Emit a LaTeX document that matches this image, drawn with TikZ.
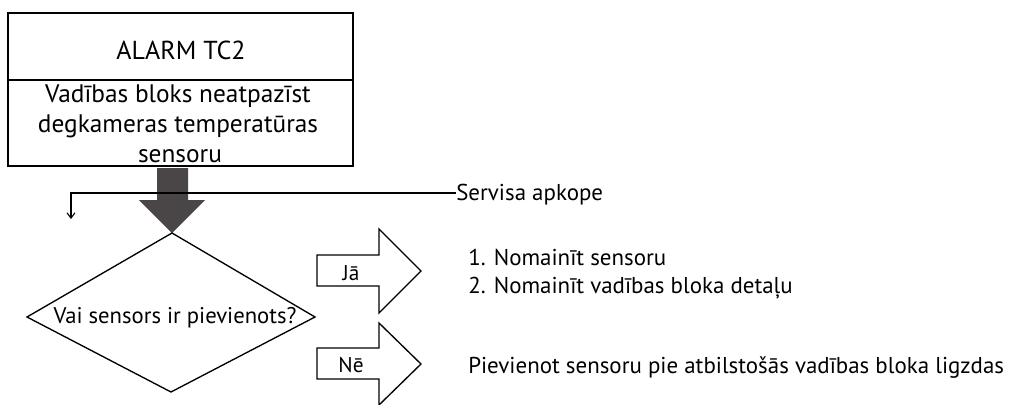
\documentclass[tikz,border=0pt]{standalone}
\usepackage{fontspec}
\setmainfont{PT Sans}
\usetikzlibrary{arrows.meta}
\definecolor{arrowgray}{RGB}{74,69,70}
\tikzset{
  boxline/.style={draw=black, line width=1.4pt},
  shapeline/.style={draw=black, line width=1pt, line join=miter},
  thinline/.style={draw=black, line width=0.8pt},
  bigtxt/.style={inner sep=0pt, anchor=base, font=\fontsize{19.5}{23}\selectfont},
  boxtxt/.style={inner sep=0pt, anchor=base, font=\fontsize{19}{23}\selectfont},
  difftxt/.style={inner sep=0pt, anchor=base, font=\fontsize{17}{20}\selectfont},
  lbltxt/.style={inner sep=0pt, anchor=base, font=\fontsize{16}{19}\selectfont},
  sidetxt/.style={inner sep=0pt, anchor=base west, font=\fontsize{17.2}{20}\selectfont}
}
\begin{document}
\begin{tikzpicture}[x=0.75pt,y=-0.75pt]
\useasboundingbox (0,0) rectangle (1011,404);
% top box
\draw[boxline] (8,13) rectangle (353,166);
\draw[boxline] (8,80) -- (353,80);
\node[bigtxt] (alarm) at (181,59) {ALARM TC2};
\node[boxtxt] (desc1) at (178,102) {Vadības bloks neatpazīst};
\node[boxtxt] (desc2) at (178,132) {degkameras temperatūras};
\node[boxtxt] (desc3) at (180,162) {sensoru};
% big arrow
\coordinate (dtop) at (172,233);
\fill[arrowgray] (157,168) -- (188,168) -- (188,200) -- (205,200) -- (dtop) -- (139,200) -- (157,200) -- cycle;
% service line
\node[sidetxt] (serv) at (456,200) {Servisa apkope};
\coordinate (corner) at (71,193);
\coordinate (servend) at (71,219);
\draw[thinline, -{Straight Barb[length=4pt,width=6pt]}] (serv.west |- corner) -- (corner) -- (servend);
% diamond
\draw[shapeline] (dtop) -- (315,317) -- (171,392) -- (27,317) -- cycle;
\node[difftxt] (q) at (175,323) {Vai sensors ir pievienots?};
% yes arrow
\draw[shapeline] (317,255) -- (379,255) -- (379,229) -- (421,271) -- (379,313) -- (379,286) -- (317,286) -- cycle;
\node[lbltxt] (ja) at (351,280) {Jā};
% no arrow
\draw[shapeline] (317,348) -- (379,348) -- (379,323) -- (421,364) -- (379,405) -- (379,379) -- (317,379) -- cycle;
\node[lbltxt] (ne) at (351,372) {Nē};
% side texts
\node[sidetxt] (y1) at (468,265) {1. Nomainīt sensoru};
\node[sidetxt] (y2) at (468,293) {2. Nomainīt vadības bloka detaļu};
\node[sidetxt] (n1) at (468,373) {Pievienot sensoru pie atbilstošās vadības bloka ligzdas};
\end{tikzpicture}
\end{document}
